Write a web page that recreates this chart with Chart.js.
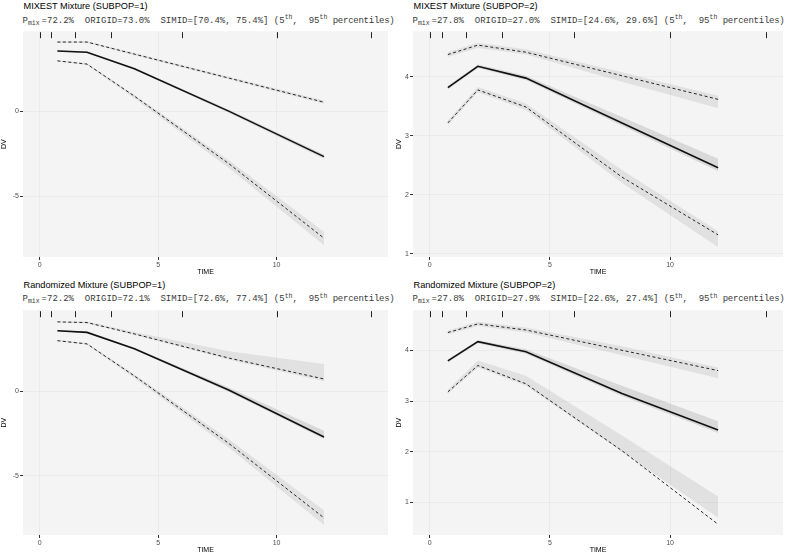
<!doctype html>
<html lang="en">
<head>
  <meta charset="utf-8" />
  <title>Mixture VPC</title>
  <script src="https://cdn.jsdelivr.net/npm/chart.js"></script>
  <style>
    body { margin: 0; background: #fff; }
    #page { position: relative; width: 789px; height: 555px; overflow: hidden; }
    .title { position: absolute; font: 9.2px "Liberation Sans", Arial, sans-serif; line-height: 11px; color: #000; white-space: nowrap; }
    .subtitle { position: absolute; font: 9px "Liberation Mono", "DejaVu Sans Mono", monospace; line-height: 11px; color: #3a3a3a; white-space: pre; }
    .subtitle sub, .subtitle sup { font-size: 6.5px; line-height: 0; position: relative; vertical-align: baseline; }
    .subtitle sub { top: 2px; margin-right: 2px; }
    .subtitle sup { top: -3.5px; }
    .subtitle .tail { letter-spacing: -0.25px; }
    canvas { position: absolute; }
  </style>
</head>
<body>
<div id="page"></div>
<script>
const times = [0.75, 2, 4, 8, 12];
const rugTimes = [0, 0.5, 1.5, 3, 6, 10, 14];
const xTicks = [0, 5, 10];
const yTicksSub1 = [-5, 0];
const yTicksSub2 = [1, 2, 3, 4];

const titles = ['MIXEST Mixture (SUBPOP=1)', 'MIXEST Mixture (SUBPOP=2)', 'Randomized Mixture (SUBPOP=1)', 'Randomized Mixture (SUBPOP=2)'];
const pmix = ['72.2', '27.8', '72.2', '27.8'];
const origid = ['73.0', '27.0', '72.1', '27.9'];
const simidLow = ['70.4', '24.6', '72.6', '22.6'];
const simidHigh = ['75.4', '29.6', '77.4', '27.4'];

// MIXEST, SUBPOP=1
const mixest1P05 = [2.98, 2.79, 0.9, -3.1, -7.48];
const mixest1P50 = [3.56, 3.49, 2.52, 0.0, -2.67];
const mixest1P95 = [4.09, 4.09, 3.38, 1.96, 0.54];
const mixest1P05Lo = [2.94, 2.74, 0.78, -3.35, -7.9];
const mixest1P05Hi = [3.02, 2.84, 0.98, -2.9, -7.1];
const mixest1P50Lo = [3.53, 3.45, 2.46, -0.1, -2.8];
const mixest1P50Hi = [3.6, 3.53, 2.58, 0.1, -2.55];
const mixest1P95Lo = [4.05, 4.05, 3.3, 1.88, 0.45];
const mixest1P95Hi = [4.13, 4.13, 3.45, 2.04, 0.64];

// MIXEST, SUBPOP=2
const mixest2P05 = [3.22, 3.78, 3.49, 2.3, 1.32];
const mixest2P50 = [3.82, 4.18, 3.98, 3.22, 2.46];
const mixest2P95 = [4.38, 4.54, 4.42, 4.02, 3.62];
const mixest2P05Lo = [3.18, 3.74, 3.44, 2.2, 1.11];
const mixest2P05Hi = [3.26, 3.83, 3.55, 2.42, 1.38];
const mixest2P50Lo = [3.79, 4.15, 3.95, 3.17, 2.4];
const mixest2P50Hi = [3.85, 4.21, 4.02, 3.32, 2.61];
const mixest2P95Lo = [4.34, 4.49, 4.38, 3.92, 3.47];
const mixest2P95Hi = [4.42, 4.58, 4.47, 4.08, 3.68];

// Randomized, SUBPOP=1
const random1P05 = [2.98, 2.79, 0.9, -3.1, -7.48];
const random1P50 = [3.57, 3.47, 2.5, 0.05, -2.71];
const random1P95 = [4.09, 4.05, 3.38, 1.95, 0.72];
const random1P05Lo = [2.94, 2.74, 0.78, -3.35, -7.9];
const random1P05Hi = [3.03, 2.85, 1.0, -2.85, -7.03];
const random1P50Lo = [3.54, 3.43, 2.44, -0.05, -2.82];
const random1P50Hi = [3.6, 3.52, 2.56, 0.2, -2.34];
const random1P95Lo = [4.05, 4.0, 3.32, 1.85, 0.58];
const random1P95Hi = [4.13, 4.12, 3.5, 2.35, 1.6];

// Randomized, SUBPOP=2
const random2P05 = [3.18, 3.7, 3.34, 2.02, 0.57];
const random2P50 = [3.79, 4.17, 3.97, 3.15, 2.43];
const random2P95 = [4.35, 4.52, 4.4, 4.0, 3.6];
const random2P05Lo = [3.14, 3.66, 3.3, 2.0, 0.7];
const random2P05Hi = [3.22, 3.8, 3.5, 2.32, 1.12];
const random2P50Lo = [3.76, 4.14, 3.93, 3.1, 2.37];
const random2P50Hi = [3.82, 4.2, 4.02, 3.3, 2.6];
const random2P95Lo = [4.31, 4.48, 4.35, 3.9, 3.45];
const random2P95Hi = [4.39, 4.56, 4.45, 4.08, 3.66];

const series = [
  [mixest1P05, mixest1P50, mixest1P95, mixest1P05Lo, mixest1P05Hi, mixest1P50Lo, mixest1P50Hi, mixest1P95Lo, mixest1P95Hi],
  [mixest2P05, mixest2P50, mixest2P95, mixest2P05Lo, mixest2P05Hi, mixest2P50Lo, mixest2P50Hi, mixest2P95Lo, mixest2P95Hi],
  [random1P05, random1P50, random1P95, random1P05Lo, random1P05Hi, random1P50Lo, random1P50Hi, random1P95Lo, random1P95Hi],
  [random2P05, random2P50, random2P95, random2P05Lo, random2P05Hi, random2P50Lo, random2P50Hi, random2P95Lo, random2P95Hi],
];
const yTicksByPanel = [yTicksSub1, yTicksSub2, yTicksSub1, yTicksSub2];
const yRange = [[-8.59, 4.73], [0.945, 4.776], [-8.49, 4.78], [0.36, 4.79]];

// canvas boxes on the page
const layout = [
  { left: 0, top: 26, width: 394, height: 251, yWidth: 23, textTop: 0 },
  { left: 395, top: 26, width: 394, height: 251, yWidth: 18, textTop: 0 },
  { left: 0, top: 305, width: 394, height: 250, yWidth: 23, textTop: 278.5 },
  { left: 395, top: 305, width: 394, height: 250, yWidth: 18, textTop: 278.5 },
];

const family = '"Liberation Sans", Arial, sans-serif';

const panelBackground = {
  id: 'panelBackground',
  beforeDraw(chart) {
    const { ctx, chartArea: a } = chart;
    ctx.save();
    ctx.fillStyle = '#f4f4f4';
    ctx.fillRect(a.left, a.top, a.width, a.height);
    ctx.restore();
  },
};

const rug = {
  id: 'rug',
  afterDatasetsDraw(chart) {
    const { ctx, chartArea: a, scales: { x } } = chart;
    ctx.save();
    ctx.strokeStyle = '#222';
    ctx.lineWidth = 1;
    for (const t of rugTimes) {
      const px = Math.round(x.getPixelForValue(t)) + 0.5;
      ctx.beginPath();
      ctx.moveTo(px, a.top + 1);
      ctx.lineTo(px, a.top + 7);
      ctx.stroke();
    }
    ctx.restore();
  },
};

const points = (values) => times.map((t, i) => ({ x: t, y: values[i] }));

function lineSet(values, width, dash) {
  return { data: points(values), borderColor: '#111', borderWidth: width, borderDash: dash, pointRadius: 0, fill: false, tension: 0 };
}

function bandSets(lo, hi, color) {
  return [
    { data: points(lo), borderWidth: 0, pointRadius: 0, fill: false },
    { data: points(hi), borderWidth: 0, pointRadius: 0, fill: '-1', backgroundColor: color },
  ];
}

function subtitleHtml(i) {
  return `P<sub>mix</sub>=${pmix[i]}%  ORIGID=${origid[i]}%  SIMID=[${simidLow[i]}%, ${simidHigh[i]}%] (5<sup>th</sup>,  95<sup>th</sup> <span class="tail">percentiles)</span>`;
}

const page = document.getElementById('page');

series.forEach(([p05, p50, p95, p05Lo, p05Hi, p50Lo, p50Hi, p95Lo, p95Hi], i) => {
  const box = layout[i];
  const textLeft = box.left + box.yWidth + 0.5;

  const title = document.createElement('div');
  title.className = 'title';
  title.style.left = `${textLeft}px`;
  title.style.top = `${box.textTop + 1.3}px`;
  title.textContent = titles[i];
  page.appendChild(title);

  const subtitle = document.createElement('div');
  subtitle.className = 'subtitle';
  subtitle.style.left = `${textLeft - 1}px`;
  subtitle.style.top = `${box.textTop + 15.6}px`;
  subtitle.innerHTML = subtitleHtml(i);
  page.appendChild(subtitle);

  const canvas = document.createElement('canvas');
  canvas.width = box.width;
  canvas.height = box.height;
  canvas.style.left = `${box.left}px`;
  canvas.style.top = `${box.top}px`;
  page.appendChild(canvas);

  new Chart(canvas, {
    type: 'line',
    data: {
      datasets: [
        lineSet(p50, 1.6, []),
        lineSet(p05, 0.9, [3, 2.5]),
        lineSet(p95, 0.9, [3, 2.5]),
        ...bandSets(p05Lo, p05Hi, 'rgba(0,0,0,0.075)'),
        ...bandSets(p50Lo, p50Hi, 'rgba(0,0,0,0.11)'),
        ...bandSets(p95Lo, p95Hi, 'rgba(0,0,0,0.075)'),
      ],
    },
    options: {
      responsive: false,
      animation: false,
      events: [],
      layout: { padding: { top: 2, right: 6, left: 0, bottom: 0 } },
      plugins: { legend: { display: false }, tooltip: { enabled: false } },
      scales: {
        x: {
          type: 'linear',
          min: -0.7,
          max: 14.7,
          afterBuildTicks: (s) => { s.ticks = xTicks.map((value) => ({ value })); },
          afterFit: (s) => { s.height = 20; },
          grid: { color: '#ebebeb', lineWidth: 1, tickColor: '#333', tickLength: 3 },
          border: { display: false },
          ticks: { font: { size: 7, family }, color: '#4d4d4d', padding: 1, maxRotation: 0 },
          title: { display: true, text: 'TIME', font: { size: 7, family }, color: '#000', padding: { top: 0, bottom: 1 } },
        },
        y: {
          min: yRange[i][0],
          max: yRange[i][1],
          afterBuildTicks: (s) => { s.ticks = yTicksByPanel[i].map((value) => ({ value })); },
          afterFit: (s) => { s.width = box.yWidth; },
          grid: { color: '#ebebeb', lineWidth: 1, tickColor: '#333', tickLength: 3 },
          border: { display: false },
          ticks: { font: { size: 7, family }, color: '#4d4d4d', padding: 1 },
          title: { display: true, text: 'DV', font: { size: 7, family }, color: '#000', padding: { top: 0, bottom: 0 } },
        },
      },
    },
    plugins: [panelBackground, rug],
  });
});
</script>
</body>
</html>
